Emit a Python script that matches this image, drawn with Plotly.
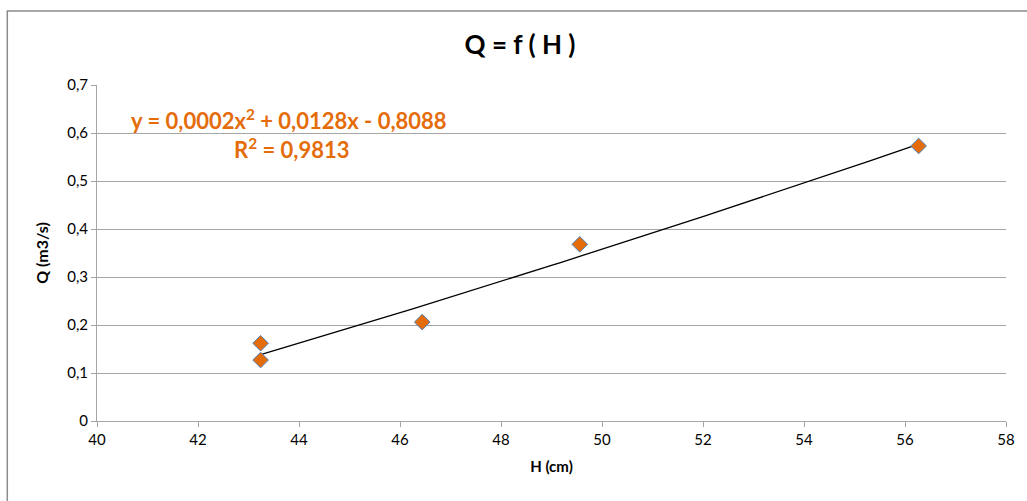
import numpy as np
import plotly.graph_objects as go

# Data
H_cm = [43.24, 43.24, 46.44, 49.56, 56.27]
Q_m3s = [0.162, 0.127, 0.206, 0.368, 0.573]

title_text = "Q = f ( H )"
x_title = "H (cm)"
y_title = "Q (m3/s)"
eq_line1 = "y = 0,0002x<sup>2</sup> + 0,0128x - 0,8088"
eq_line2 = "R<sup>2</sup> = 0,9813"

# polynomial (order 2) trendline computed from the data
coef = np.polyfit(H_cm, Q_m3s, 2)
xt = np.linspace(min(H_cm), max(H_cm), 100)
yt = np.polyval(coef, xt)

FONT = "Lato, 'Open Sans', sans-serif"
ORANGE = "#E46C0A"
GRID = "#A6A6A6"

fig = go.Figure()
fig.add_trace(go.Scatter(x=xt, y=yt, mode="lines",
                         line=dict(color="black", width=1.3),
                         hoverinfo="skip", showlegend=False))
fig.add_trace(go.Scatter(x=H_cm, y=Q_m3s, mode="markers",
                         marker=dict(symbol="diamond", size=12, color=ORANGE,
                                     line=dict(color="#4F81BD", width=1)),
                         showlegend=False))

fig.update_layout(
    width=1027, height=501,
    margin=dict(l=97, r=18, t=85, b=80),
    paper_bgcolor="white", plot_bgcolor="white",
    separators=", ",
    font=dict(family=FONT, color="black", size=15),
    title=dict(text="<b>" + title_text + "</b>", x=(520 / 1027), xanchor="center",
               y=1 - 45 / 501, yanchor="middle",
               font=dict(size=26, family=FONT, color="black")),
    xaxis=dict(range=[40, 58], dtick=2, tick0=40, showgrid=False,
               showline=True, linecolor=GRID, linewidth=1,
               ticks="outside", ticklen=5, tickcolor=GRID,
               zeroline=False,
               title=dict(text="<b>" + x_title + "</b>", font=dict(size=15), standoff=14),
               tickfont=dict(size=15)),
    yaxis=dict(range=[0, 0.7], dtick=0.1, tick0=0, showgrid=True,
               gridcolor=GRID, gridwidth=1,
               showline=True, linecolor=GRID, linewidth=1,
               ticks="outside", ticklen=5, tickcolor=GRID,
               zeroline=False,
               title=dict(text="<b>" + y_title + "</b>", font=dict(size=16), standoff=14),
               tickfont=dict(size=15)),
    shapes=[dict(type="rect", xref="paper", yref="paper",
                 x0=(7 - 97) / 912, x1=1.2, y0=-0.5, y1=(421 - 11) / 336,
                 line=dict(color="#8C8C8C", width=1.5), fillcolor="rgba(0,0,0,0)",
                 layer="below")],
    annotations=[
        dict(text="<b>" + eq_line1 + "</b>", xref="paper", yref="paper",
             x=(290 - 97) / 912, y=(421 - 119) / 336, xanchor="center", yanchor="middle",
             showarrow=False, font=dict(size=22, color=ORANGE, family=FONT)),
        dict(text="<b>" + eq_line2 + "</b>", xref="paper", yref="paper",
             x=(293 - 97) / 912, y=(421 - 148) / 336, xanchor="center", yanchor="middle",
             showarrow=False, font=dict(size=22, color=ORANGE, family=FONT)),
    ],
)

fig.write_html("out.html", config={"displayModeBar": False},
               post_script="document.body.style.margin='0px';document.body.style.overflow='hidden';")
